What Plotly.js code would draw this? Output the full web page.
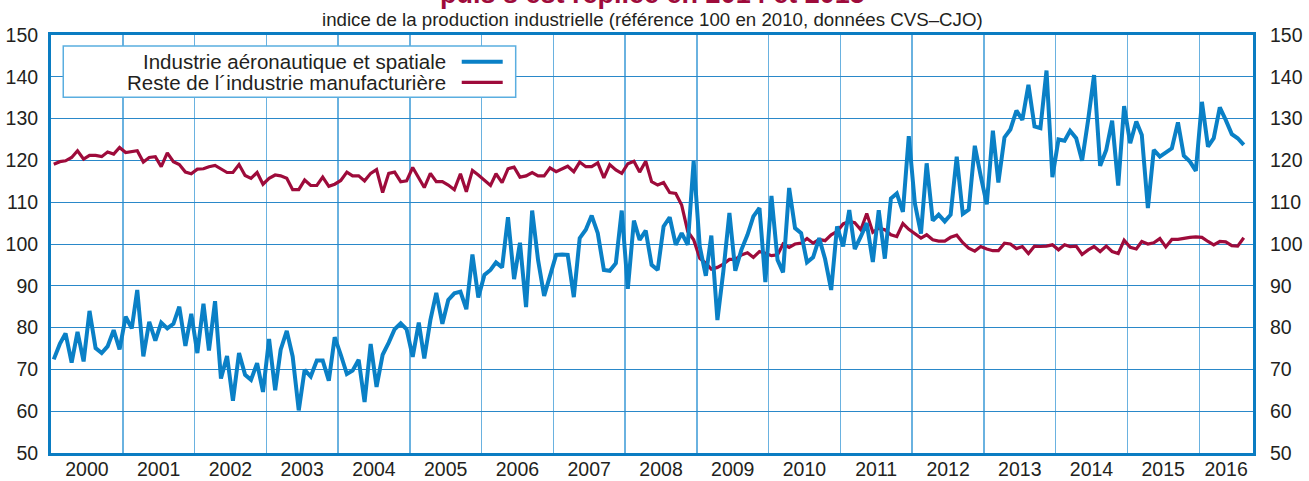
<!DOCTYPE html>
<html><head><meta charset="utf-8">
<script src="https://cdn.plot.ly/plotly-3.0.1.min.js"></script>
<style>html,body{margin:0;padding:0;background:#fff}#chart{width:1309px;height:481px}</style>
</head><body><div id="chart"></div>
<script>
// Monthly index, Jan 2000 - Aug 2016 (base 100 in 2010, CVS-CJO)
const startYear = 2000;
const yearLabels = ['2000','2001','2002','2003','2004','2005','2006','2007','2008','2009','2010','2011','2012','2013','2014','2015','2016'];
const seriesNames = ['Industrie aéronautique et spatiale', 'Reste de l\u00b4industrie manufacturière'];

const aero = [
 72.4,76.1,78.6,71.6,79.0,71.9,84.0,75.1,73.9,75.5,79.4,74.8,
 82.6,79.8,89.0,73.1,81.4,76.9,81.2,79.8,80.9,85.0,75.6,83.3,
 73.9,85.7,74.5,86.3,67.8,73.2,62.5,73.9,68.7,67.5,71.5,64.6,
 77.3,65.0,74.7,79.2,73.1,60.2,69.9,68.3,72.1,72.1,67.3,77.7,
 73.5,68.9,69.7,72.3,62.2,76.1,65.8,73.5,76.4,79.6,81.0,79.6,
 73.0,81.2,72.6,81.8,88.3,80.9,86.6,88.2,88.6,84.4,97.5,87.2,
 92.6,93.8,95.6,94.4,106.4,91.6,100.3,84.9,108.0,96.2,87.6,92.6,
 97.4,97.5,97.4,87.3,101.4,103.4,106.8,102.6,93.8,93.6,95.4,108.0,
 89.3,105.6,101.0,103.2,95.0,93.8,104.2,106.4,99.8,102.6,99.8,119.8,
 99.4,92.4,102.0,81.8,93.4,107.4,93.6,98.6,102.2,106.6,108.6,90.9,
 111.5,96.2,93.2,113.4,103.8,102.6,95.6,96.8,101.4,96.4,89.0,104.2,
 99.4,108.1,98.8,101.8,105.0,95.7,108.1,96.5,110.9,112.1,107.7,125.8,
 109.7,102.5,119.3,105.6,107.0,105.4,107.0,120.9,107.2,108.2,123.5,116.3,
 109.5,127.1,114.7,125.5,127.4,131.9,129.7,138.1,128.1,127.7,141.5,116.0,
 125.0,124.7,127.1,125.3,119.9,129.7,140.4,118.7,122.5,129.5,114.0,133.0,
 124.1,129.3,126.1,108.6,122.5,120.9,121.9,122.9,129.1,121.1,119.7,117.5,
 134.0,123.3,125.3,132.7,129.7,126.3,125.3,123.7
];

const manuf = [
 119.1,119.7,119.9,120.7,122.3,120.3,121.2,121.2,120.9,122.0,121.5,123.1,
 121.9,122.2,122.3,119.6,120.7,120.9,118.5,121.8,119.7,119.0,117.2,116.8,
 117.9,118.0,118.5,118.8,118.0,117.1,117.1,119.0,116.4,115.7,117.1,114.3,
 115.7,116.5,116.3,115.7,113.0,113.0,115.3,114.0,114.0,116.0,113.8,114.3,
 115.2,117.2,116.3,116.3,115.1,116.9,117.8,112.3,116.9,117.2,114.9,115.1,
 118.3,115.7,113.5,116.9,114.9,114.9,114.1,113.0,116.8,112.5,117.6,116.5,
 115.2,114.0,116.8,114.7,118.0,118.4,116.0,116.3,117.1,116.3,116.3,118.2,
 117.3,117.9,118.6,117.3,119.6,118.5,118.5,119.4,115.8,119.0,117.7,116.9,
 119.2,119.8,117.2,119.8,114.9,114.1,114.7,112.3,112.1,109.3,103.0,101.0,
 96.6,95.4,94.0,94.4,95.2,96.3,96.3,97.4,97.9,96.8,98.2,97.8,
 97.2,97.4,100.0,99.2,100.0,100.2,101.3,100.2,101.1,100.8,102.2,103.0,
 104.8,105.4,105.1,103.4,107.3,102.8,103.8,103.4,102.2,101.8,104.9,103.5,
 102.4,101.4,102.2,101.0,100.7,100.7,101.6,102.1,100.3,99.0,98.3,99.4,
 98.8,98.4,98.4,100.2,100.0,98.9,99.4,97.7,99.5,99.4,99.5,99.8,
 98.6,99.8,99.4,99.5,97.5,98.6,99.4,98.2,99.5,98.2,97.7,100.9,
 99.2,98.8,100.6,100.0,100.3,101.3,99.3,101.1,101.1,101.4,101.6,101.7,
 101.6,100.6,99.8,100.6,100.5,99.6,99.5,101.5
];

const pad = n => String(n).padStart(2, '0');
const months = aero.map((_, i) => `${startYear + Math.floor(i / 12)}-${pad(i % 12 + 1)}-15`);

const xStart = `${startYear}-01-01`;
const xEnd = '2016-10-01';
const toMs = s => new Date(s + 'T00:00:00Z').getTime();
const fromMs = ms => new Date(ms).toISOString().slice(0, 10);
const labelPos = yearLabels.map(y => {
  const a = toMs(`${y}-01-01`);
  const b = Math.min(toMs(`${+y + 1}-01-01`), toMs(xEnd));
  return fromMs((a + b) / 2);
});

const BLUE = '#0a80c6';
const RED = '#9e0b3b';
const FRAME = '#0a7cc2';
const HGRID = '#2a88c9';
const VGRID = '#6ab2e0';
const FONT = 'Liberation Sans, Arial, Helvetica, sans-serif';

const traces = [
  {x: months, y: manuf, type: 'scatter', mode: 'lines', name: seriesNames[1],
   line: {color: RED, width: 3.2}, showlegend: false, hoverinfo: 'x+y'},
  {x: months, y: aero, type: 'scatter', mode: 'lines', name: seriesNames[0],
   line: {color: BLUE, width: 4}, showlegend: false, hoverinfo: 'x+y'}
];

const ax = () => ({ range: [50, 150], dtick: 10, tick0: 50, fixedrange: true });

const layout = {
  width: 1309, height: 481,
  margin: {l: 51, r: 56, t: 35, b: 28},
  paper_bgcolor: '#ffffff', plot_bgcolor: '#ffffff',
  font: {family: FONT, size: 19, color: '#231f20'},
  xaxis: {
    type: 'date', range: [xStart, xEnd],
    tickmode: 'array', tickvals: labelPos, ticktext: yearLabels,
    showgrid: false, zeroline: false, ticks: '', ticklabelstandoff: -3,
    tickfont: {size: 19.5, color: '#231f20'},
    minor: {tickmode: 'linear', tick0: xStart, dtick: 'M12', showgrid: true,
            gridcolor: VGRID, gridwidth: 1.3, ticks: ''},
    showline: true, mirror: true, linecolor: FRAME, linewidth: 3
  },
  yaxis: Object.assign(ax(), {
    showgrid: true, gridcolor: HGRID, gridwidth: 1, zeroline: false,
    ticks: '', ticklabelstandoff: 6, tickfont: {size: 19.5, color: '#231f20'},
    showline: true, mirror: true, linecolor: FRAME, linewidth: 3
  }),
  yaxis2: Object.assign(ax(), {
    overlaying: 'y', side: 'right', showgrid: false, zeroline: false,
    ticks: '', ticklabelstandoff: 16, showline: false, tickfont: {size: 19.5, color: '#231f20'}
  }),
  shapes: [
    {type: 'rect', xref: 'paper', yref: 'paper', x0: 0.0102, x1: 0.3866, y0: 0.851, y1: 0.9737,
     fillcolor: '#ffffff', line: {color: '#5aaee0', width: 1.5}, layer: 'above'},
    {type: 'line', xref: 'paper', yref: 'paper', x0: 0.3417, x1: 0.3758, y0: 0.9361, y1: 0.9361,
     line: {color: BLUE, width: 4}, layer: 'above'},
    {type: 'line', xref: 'paper', yref: 'paper', x0: 0.3417, x1: 0.3758, y0: 0.8868, y1: 0.8868,
     line: {color: RED, width: 3.2}, layer: 'above'}
  ],
  annotations: [
    {xref: 'paper', yref: 'paper', x: 0.33, y: 0.9361, xanchor: 'right', yanchor: 'middle',
     text: seriesNames[0], showarrow: false, font: {size: 20.5, color: '#231f20'}},
    {xref: 'paper', yref: 'paper', x: 0.33, y: 0.8868, xanchor: 'right', yanchor: 'middle',
     text: seriesNames[1], showarrow: false, font: {size: 20.5, color: '#231f20'}},
    {xref: 'paper', yref: 'paper', x: 0.5, y: 1.0359, xanchor: 'center', yanchor: 'middle',
     text: 'indice de la production industrielle (référence 100 en 2010, données CVS\u2013CJO)',
     showarrow: false, font: {size: 18.7, color: '#231f20'}},
    {xref: 'paper', yref: 'paper', x: 0.5, y: 1.057, xanchor: 'center', yanchor: 'bottom',
     text: '<b>puis s\u2019est repliée en 2014 et 2015</b>',
     showarrow: false, font: {size: 27, color: RED}}
  ]
};

traces.push({x: [months[0]], y: [aero[0]], yaxis: 'y2', type: 'scatter', mode: 'lines',
  line: {width: 0}, showlegend: false, hoverinfo: 'skip'});

Plotly.newPlot('chart', traces, layout, {displayModeBar: false, staticPlot: true});
</script>
</body></html>
